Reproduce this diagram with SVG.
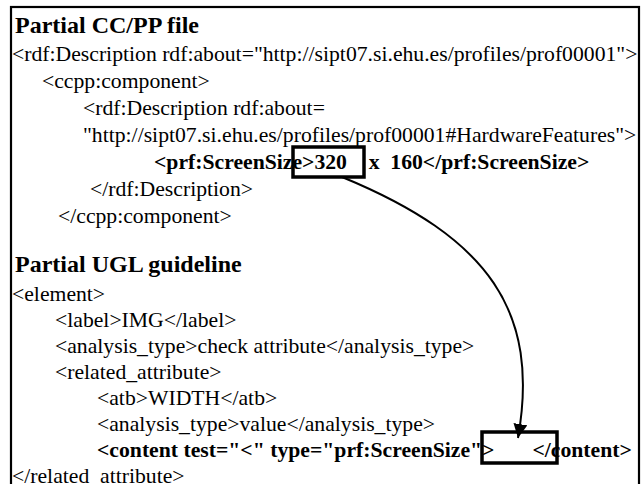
<svg xmlns="http://www.w3.org/2000/svg" width="644" height="484" viewBox="0 0 644 484" font-family="'Liberation Serif', 'Times New Roman', serif">
<style>
.t { font-family: 'Liberation Serif', 'Times New Roman', serif; font-size: 24px; font-weight: bold; fill: #000; }
.b { font-family: 'Liberation Serif', 'Times New Roman', serif; font-size: 21.7px; fill: #000; }
.bb { font-family: 'Liberation Serif', 'Times New Roman', serif; font-size: 21.7px; font-weight: bold; fill: #000; }
.box { fill: none; stroke: #000; stroke-width: 3.5; }
.frame { fill: #fff; stroke: #000; stroke-width: 2.2; }
.conn { fill: none; stroke: #000; stroke-width: 2; }
</style>
<defs>
<marker id="ah" markerUnits="userSpaceOnUse" markerWidth="16" markerHeight="16" refX="14" refY="7" orient="auto">
<path d="M0,0 L14,7 L0,14 Z" fill="#000"/>
</marker>
</defs>
<rect class="frame" x="11" y="7" width="628" height="495"/>
<g id="ccpp">
<text class="t" x="15" y="33">Partial CC/PP file</text>
<text class="b" x="12" y="61">&lt;rdf:Description rdf:about="http://sipt07.si.ehu.es/profiles/prof00001"&gt;</text>
<text class="b" x="42" y="88">&lt;ccpp:component&gt;</text>
<text class="b" x="83" y="115">&lt;rdf:Description rdf:about=</text>
<text class="b" x="83" y="142">"http://sipt07.si.ehu.es/profiles/prof00001#HardwareFeatures"&gt;</text>
<text class="bb" x="154" y="169" xml:space="preserve">&lt;prf:ScreenSize&gt;320    x  160&lt;/prf:ScreenSize&gt;</text>
<text class="b" x="90" y="196">&lt;/rdf:Description&gt;</text>
<text class="b" x="58" y="223">&lt;/ccpp:component&gt;</text>
</g>
<g id="ugl">
<text class="t" x="15" y="272">Partial UGL guideline</text>
<text class="b" x="12" y="301">&lt;element&gt;</text>
<text class="b" x="55" y="327">&lt;label&gt;IMG&lt;/label&gt;</text>
<text class="b" x="55" y="353">&lt;analysis_type&gt;check attribute&lt;/analysis_type&gt;</text>
<text class="b" x="55" y="379">&lt;related_attribute&gt;</text>
<text class="b" x="97" y="405">&lt;atb&gt;WIDTH&lt;/atb&gt;</text>
<text class="b" x="97" y="431">&lt;analysis_type&gt;value&lt;/analysis_type&gt;</text>
<text class="bb" x="97" y="457" xml:space="preserve">&lt;content test="&lt;" type="prf:ScreenSize"&gt;       &lt;/content&gt;</text>
<text class="b" x="12" y="483">&lt;/related_attribute&gt;</text>
</g>
<g id="box-source"><rect class="box" x="293" y="147" width="71" height="30"/></g>
<g id="box-target"><rect class="box" x="482" y="432" width="75" height="31"/></g>
<g id="connectors">
<path class="conn" d="M342,177 C490,238 540,312 518,438" marker-end="url(#ah)"/>
</g>
</svg>
